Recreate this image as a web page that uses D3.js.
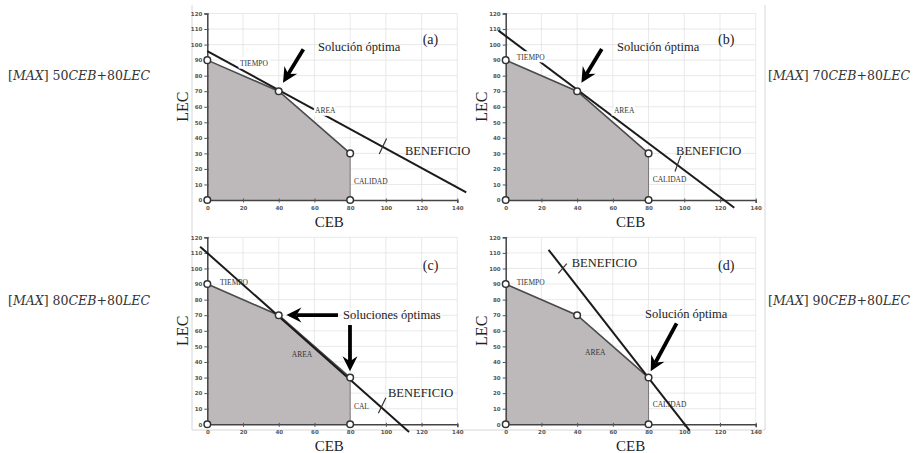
<!DOCTYPE html>
<html>
<head>
<meta charset="utf-8">
<script src="https://cdn.jsdelivr.net/npm/d3@7"></script>
<style>
body { margin: 0; background: #fff; }
svg { font-family: "Liberation Serif", "Times New Roman", serif; }
</style>
</head>
<body>
<div id="chart-area"></div>
<script>
// ---- data ----
var panelTags = ["(a)", "(b)", "(c)", "(d)"];
var cebCoef = [50, 70, 80, 90];
var lecCoef = [80, 80, 80, 80];

// feasible region vertices (CEB, LEC)
var regionCEB = [0, 0, 40, 80, 80];
var regionLEC = [0, 90, 70, 30, 0];

var xTicks = [0, 20, 40, 60, 80, 100, 120, 140];
var yTicks = [0, 10, 20, 30, 40, 50, 60, 70, 80, 90, 100, 110, 120];

// BENEFICIO line, start / end as drawn in each panel
var benefCEB = [[0, 145], [-4, 128], [-4, 113], [24, 103]];
var benefLEC = [[95.8, 4.9], [109, -5], [114, -5], [112, -4]];

var optimoText = ["Solución óptima", "Solución óptima", "Soluciones óptimas", "Solución óptima"];
var tiempoText = ["TIEMPO", "TIEMPO", "TIEMPO", "TIEMPO"];
var areaText = ["AREA", "AREA", "AREA", "AREA"];
var calidadText = ["CALIDAD", "CALIDAD", "CAL", "CALIDAD"];

// ---- layout ----
var W = 916, H = 453;
var panels = [
    { left: 207.3, right: 457.3, bottom: 200,   top: 13.5 },
    { left: 505.7, right: 755.7, bottom: 200,   top: 13.5 },
    { left: 207.3, right: 457.3, bottom: 424.3, top: 237.3 },
    { left: 505.7, right: 755.7, bottom: 424.3, top: 237.3 }
];
// annotation anchors in chart units
var ann = [
    { tag: [120.6, 100.2], opt: [62, 96], benef: [110.7, 29], dir: [[96.3, 29.6], [100.4, 39.6]],
      tiempo: [18.3, 86.2], area: [60.3, 55.7], cal: [82.1, 10.3],
      arrows: [[[53.8, 97], [42.4, 75.5]]], bgLabels: true },
    { tag: [118.9, 100.6], opt: [62.3, 96], benef: [95.4, 29], dir: [[94.8, 18.3], [98, 28.4]],
      tiempo: [6.2, 90], area: [60.6, 55.7], cal: [82.3, 11.3],
      arrows: [[[53.8, 97.2], [42.4, 75.5]]], bgLabels: true },
    { tag: [120.7, 99], opt: [76, 67.4], benef: [101.2, 17.7], dir: [[95.8, 7.1], [100, 17.1]],
      tiempo: [7.1, 89.5], area: [47.3, 42.9], cal: [82.1, 9.7],
      arrows: [[[73.2, 70.1], [44.3, 70.1]], [[79.9, 63.7], [79.9, 34]]], bgLabels: false },
    { tag: [118.9, 99], opt: [78, 68], benef: [37, 101.2], dir: [[29.5, 96.9], [34.2, 103.1]],
      tiempo: [6.2, 89.5], area: [44.4, 44.6], cal: [82.3, 10.8],
      arrows: [[[95.7, 64.8], [81.2, 34]]], bgLabels: false }
];
var maxPos = [[8, 80], [768, 80], [8, 305], [768, 305]];

var svg = d3.select("#chart-area")
    .append("svg")
    .attr("width", W)
    .attr("height", H);

// faint frame of the screenshots
svg.append("path")
    .attr("d", "M192,5 L192,430 L765,430 L765,5")
    .attr("fill", "none")
    .attr("stroke", "#d6d6d6")
    .attr("stroke-width", 1);

function drawArrow(g, x1, y1, x2, y2) {
    var dx = x2 - x1, dy = y2 - y1, L = Math.sqrt(dx * dx + dy * dy);
    var ux = dx / L, uy = dy / L, px = -uy, py = ux;
    var hl = 15, hw = 7.5, notch = 5;
    var bx = x2 - ux * hl, by = y2 - uy * hl;
    g.append("line")
        .attr("x1", x1).attr("y1", y1)
        .attr("x2", x2 - ux * (hl - notch)).attr("y2", y2 - uy * (hl - notch))
        .attr("stroke", "#000")
        .attr("stroke-width", 3.8);
    g.append("path")
        .attr("d", "M" + x2 + "," + y2 +
            " L" + (bx + px * hw) + "," + (by + py * hw) +
            " L" + (x2 - ux * (hl - notch)) + "," + (y2 - uy * (hl - notch)) +
            " L" + (bx - px * hw) + "," + (by - py * hw) + " Z")
        .attr("fill", "#000");
}

panels.forEach(function(p, i) {
    var a = ann[i];
    var g = svg.append("g").attr("class", "panel");

    var x = d3.scaleLinear().domain([0, 140]).range([p.left, p.right]);
    var y = d3.scaleLinear().domain([0, 120]).range([p.bottom, p.top]);

    // grid
    g.selectAll(".vgrid").data(xTicks.slice(1)).enter()
        .append("line")
            .attr("x1", function(d){ return x(d); })
            .attr("x2", function(d){ return x(d); })
            .attr("y1", y(0)).attr("y2", y(120))
            .attr("stroke", "#e3e3e3").attr("stroke-width", 0.8);
    g.selectAll(".hgrid").data(yTicks.slice(1)).enter()
        .append("line")
            .attr("x1", x(0)).attr("x2", x(140))
            .attr("y1", function(d){ return y(d); })
            .attr("y2", function(d){ return y(d); })
            .attr("stroke", "#e3e3e3").attr("stroke-width", 0.8);

    // feasible region
    var pts = regionCEB.map(function(c, k){ return [x(c), y(regionLEC[k])]; });
    g.append("path")
        .attr("d", d3.line()(pts) + "Z")
        .attr("fill", "#bdb8b9")
        .attr("stroke", "none");
    g.append("path")
        .attr("d", d3.line()(pts.slice(1, 4)))
        .attr("fill", "none")
        .attr("stroke", "#4a4a4a")
        .attr("stroke-width", 1.6);
    g.append("line")
        .attr("x1", x(80)).attr("x2", x(80))
        .attr("y1", y(30)).attr("y2", y(0))
        .attr("stroke", "#777").attr("stroke-width", 1);

    // axes
    var xAxis = d3.axisBottom(x).tickValues(xTicks).tickSize(3).tickPadding(3);
    var xa = g.append("g")
        .attr("transform", "translate(0," + y(0) + ")")
        .call(xAxis);
    xa.select(".domain").attr("stroke", "#444").attr("stroke-width", 1.5);
    xa.selectAll(".tick line").attr("stroke", "#555").attr("y1", -1.5).attr("y2", 2.5);
    xa.selectAll(".tick text")
        .attr("font-family", "DejaVu Sans").attr("font-size", "5.5px")
        .attr("font-weight", "bold").attr("fill", "#555");

    var yAxis = d3.axisLeft(y).tickValues(yTicks).tickSize(3).tickPadding(2);
    var ya = g.append("g")
        .attr("transform", "translate(" + x(0) + ",0)")
        .call(yAxis);
    ya.select(".domain").attr("stroke", "#444").attr("stroke-width", 1.5);
    ya.selectAll(".tick line").attr("stroke", "#555").attr("x1", 1.5).attr("x2", -3);
    ya.selectAll(".tick text")
        .attr("font-family", "DejaVu Sans").attr("font-size", "5.5px")
        .attr("font-weight", "bold").attr("fill", "#555");

    // constraint labels
    function smallLabel(txt, pos, bg) {
        var t = g.append("text")
            .attr("x", x(pos[0])).attr("y", y(pos[1]))
            .attr("font-family", "Liberation Serif")
            .attr("font-size", "7.5px")
            .attr("fill", "#333")
            .text(txt);
        if (bg) {
            t.attr("stroke", "#fff").attr("stroke-width", 5)
             .attr("paint-order", "stroke");
        }
        return t;
    }

    // BENEFICIO line
    g.append("line")
        .attr("x1", x(benefCEB[i][0])).attr("y1", y(benefLEC[i][0]))
        .attr("x2", x(benefCEB[i][1])).attr("y2", y(benefLEC[i][1]))
        .attr("stroke", "#1a1a1a")
        .attr("stroke-width", 2);
    g.append("line")
        .attr("x1", x(a.dir[0][0])).attr("y1", y(a.dir[0][1]))
        .attr("x2", x(a.dir[1][0])).attr("y2", y(a.dir[1][1]))
        .attr("stroke", "#333").attr("stroke-width", 1.2);

    smallLabel(tiempoText[i], a.tiempo, a.bgLabels);
    smallLabel(areaText[i], a.area, a.bgLabels);
    smallLabel(calidadText[i], a.cal, false);

    // vertices
    g.selectAll(".vertex")
        .data(regionCEB.map(function(c, k){ return [c, regionLEC[k]]; }))
        .enter()
        .append("circle")
            .attr("cx", function(d){ return x(d[0]); })
            .attr("cy", function(d){ return y(d[1]); })
            .attr("r", 3.3)
            .attr("fill", "#fff")
            .attr("stroke", "#333")
            .attr("stroke-width", 1.5);

    // text annotations
    g.append("text")
        .attr("x", x(a.tag[0])).attr("y", y(a.tag[1]))
        .attr("font-size", "14px").attr("fill", "#222")
        .text(panelTags[i]);
    g.append("text")
        .attr("x", x(a.opt[0])).attr("y", y(a.opt[1]))
        .attr("font-size", "12.5px").attr("fill", "#222")
        .text(optimoText[i]);
    g.append("text")
        .attr("x", x(a.benef[0])).attr("y", y(a.benef[1]))
        .attr("font-size", "12.5px").attr("fill", "#222")
        .text("BENEFICIO");

    a.arrows.forEach(function(ar) {
        drawArrow(g, x(ar[0][0]), y(ar[0][1]), x(ar[1][0]), y(ar[1][1]));
    });

    // axis titles
    g.append("text")
        .attr("x", -(y(60)))
        .attr("y", p.left - 19)
        .attr("transform", "rotate(-90)")
        .attr("text-anchor", "middle")
        .attr("font-size", "16px").attr("fill", "#222")
        .text("LEC");
    g.append("text")
        .attr("x", x(70) - (i % 2 === 1 ? 0 : 3))
        .attr("y", p.bottom + 27)
        .attr("text-anchor", "middle")
        .attr("font-size", "15px").attr("fill", "#222")
        .text("CEB");

    // objective function label
    var m = svg.append("text")
        .attr("x", maxPos[i][0]).attr("y", maxPos[i][1])
        .attr("font-family", "DejaVu Serif")
        .attr("font-size", "13px")
        .attr("fill", "#333")
        .attr("textLength", 142)
        .attr("lengthAdjust", "spacingAndGlyphs");
    m.append("tspan").text("[");
    m.append("tspan").attr("font-style", "italic").text("MAX");
    m.append("tspan").text("] " + cebCoef[i]);
    m.append("tspan").attr("font-style", "italic").text("CEB");
    m.append("tspan").text("+" + lecCoef[i]);
    m.append("tspan").attr("font-style", "italic").text("LEC");
});
</script>
</body>
</html>
